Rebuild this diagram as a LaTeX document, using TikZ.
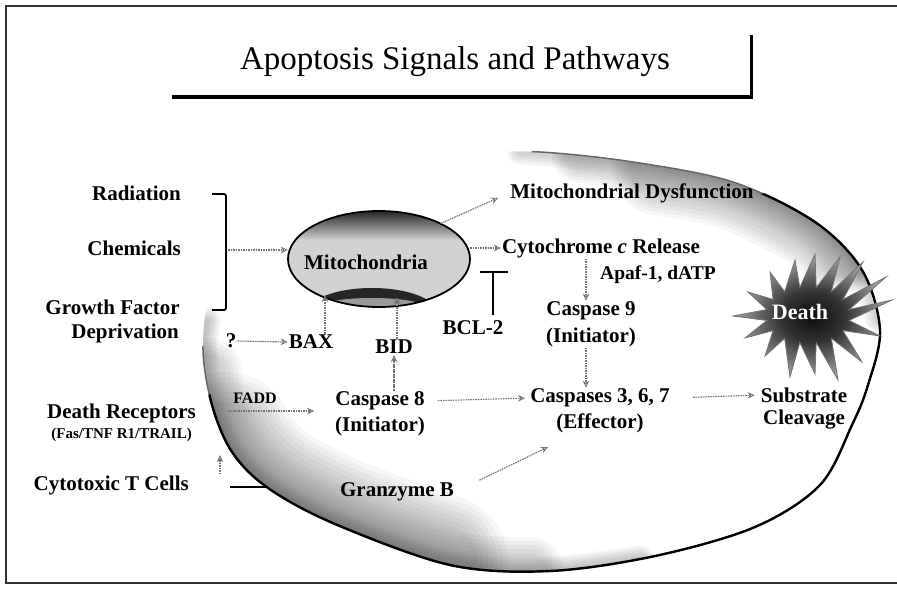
\documentclass[tikz,border=0pt]{standalone}
\usepackage{fontspec}
\setmainfont{Liberation Serif}
\usetikzlibrary{arrows.meta,shapes.geometric,calc}

% dark burst behind the word Death
\pgfdeclareradialshading{deathglow}{\pgfpoint{0bp}{0bp}}{color(0bp)=(black!95); color(10bp)=(black!80); color(25bp)=(black!35); color(50bp)=(black!35)}

% outline of the cell
\def\cellpath{plot[smooth cycle, tension=0.55] coordinates {(540,152) (633,162) (733,182) (815,222) (862,270) (880,330) (868,385) (852,425) (820,485) (755,527) (655,556) (550,571) (450,565) (335,524) (268,488) (232,452) (212,405) (203,350) (210,295) (240,240) (300,195) (390,163) (470,153)}}

\tikzset{
  titlefont/.style={font=\fontsize{33}{39}\selectfont, inner sep=1pt},
  lbl/.style={font=\bfseries\fontsize{21}{25}\selectfont, inner sep=1pt},
  smalllbl/.style={font=\bfseries\fontsize{15}{18}\selectfont, inner sep=1pt},
  deathlbl/.style={font=\bfseries\fontsize{22}{26}\selectfont, text=white, inner sep=1pt},
  sig/.style={draw=black!55, line width=1.1pt, dash pattern=on 1.6pt off 0.9pt,
    -{Stealth[open, length=7pt, width=6.5pt, line width=0.9pt]}},
  blk/.style={draw=black, line width=1.6pt},
  lowband/.style={draw=black, opacity=0.036, line cap=round, line join=round},
  topband/.style={draw=black, opacity=0.035, line cap=round, line join=round},
}

\begin{document}
\begin{tikzpicture}[x=1pt, y=-1pt]
\useasboundingbox (0,0) rectangle (897,606);
\fill[white] (0,0) rectangle (897,606);

% ---- grey band fading inward from the cell rim ----
\begin{scope}
  \clip \cellpath;
  % lower left
  \foreach \w in {6,10,...,30}
    \draw[lowband, line width=\w pt] plot[smooth, tension=0.55] coordinates {(206,322) (203,350) (212,405) (232,452) (268,488) (335,524) (450,565) (550,571) (640,560)};
  \foreach \w in {36,44,...,68}
    \draw[lowband, line width=\w pt] plot[smooth, tension=0.55] coordinates {(208,372) (212,405) (232,452) (268,488) (335,524) (450,565) (530,571)};
  \foreach \w in {76,86,...,136}
    \draw[lowband, line width=\w pt] plot[smooth, tension=0.55] coordinates {(226,440) (232,452) (268,488) (335,524) (440,562)};
  % upper right
  \foreach \w in {6,11,...,26}
    \draw[topband, line width=\w pt] plot[smooth, tension=0.55] coordinates {(520,152) (633,162) (733,182) (815,222) (862,270) (878,320)};
  \foreach \w in {32,38,...,56}
    \draw[topband, line width=\w pt] plot[smooth, tension=0.55] coordinates {(580,155) (633,162) (733,182) (815,222) (855,262)};
  \foreach \w in {64,72,...,96}
    \draw[topband, line width=\w pt] plot[smooth, tension=0.55] coordinates {(660,168) (733,182) (815,222) (840,245)};
\end{scope}
% rim: faint along the top and upper left, heavy along the bottom and right
\begin{scope}
  \clip (100,407) -- (700,52) -- (897,52) -- (897,606) -- (100,606) -- cycle;
  \draw[black!60, line width=1.5pt] \cellpath;
\end{scope}
\begin{scope}
  \clip (100,520) -- (300,290) -- (780,190) -- (897,230) -- (897,606) -- (100,606) -- cycle;
  \draw[black, line width=2.4pt] \cellpath;
\end{scope}

% ---- frame and title box ----
\draw[black!80, line width=1.3pt] (897,6) -- (6,6) -- (6,583) -- (897,583);
\draw[black, line width=4pt] (172,97) -- (753,97);
\draw[black, line width=3pt] (751,35) -- (751,99);
\node[titlefont] (title) at (455,62) {Apoptosis Signals and Pathways};

% ---- mitochondrion ----
\node[ellipse, minimum width=182pt, minimum height=96pt, inner sep=0pt] (mito) at (379,259) {};
\begin{scope}
  \clip (379,259) ellipse [x radius=91, y radius=48];
  \fill[black!18] (280,200) rectangle (475,310);
  \shade[top color=black!85, bottom color=black!18] (280,211) rectangle (475,240);
  \fill[black!85] (372,312) ellipse [x radius=64, y radius=24];
  \fill[black!40] (372,306) ellipse [x radius=50, y radius=8];
\end{scope}
\draw[black, line width=1.8pt] (379,259) ellipse [x radius=91, y radius=48];

% ---- death burst ----
\coordinate (dc) at (808,315);
\shade[shading=deathglow, draw=black!55, line width=0.8pt]
  (892,300) -- ([shift={(dc)}]11.25:42 and 28) -- (880,336) -- ([shift={(dc)}]33.75:42 and 28)
  -- (862,362) -- ([shift={(dc)}]56.25:42 and 28) -- (838,380) -- ([shift={(dc)}]78.75:42 and 28)
  -- (815,374) -- ([shift={(dc)}]101.25:42 and 28) -- (790,377) -- ([shift={(dc)}]123.75:42 and 28)
  -- (765,356) -- ([shift={(dc)}]146.25:42 and 28) -- (745,338) -- ([shift={(dc)}]168.75:42 and 28)
  -- (733,316) -- ([shift={(dc)}]191.25:42 and 28) -- (748,292) -- ([shift={(dc)}]213.75:42 and 28)
  -- (770,272) -- ([shift={(dc)}]236.25:42 and 28) -- (795,260) -- ([shift={(dc)}]258.75:42 and 28)
  -- (815,254) -- ([shift={(dc)}]281.25:42 and 28) -- (840,257) -- ([shift={(dc)}]303.75:42 and 28)
  -- (863,262) -- ([shift={(dc)}]326.25:42 and 28) -- (886,277) -- ([shift={(dc)}]348.75:42 and 28) -- cycle;

% ---- labels ----
\node[lbl, anchor=east] (rad) at (182,193) {Radiation};
\node[lbl, anchor=east] (chem) at (182,248) {Chemicals};
\node[lbl, anchor=east] (gf) at (181,307) {Growth Factor};
\node[lbl, anchor=east] (dep) at (180,333) {Deprivation};
\node[lbl] (mtx) at (366,262) {Mitochondria};
\node[lbl] (md) at (632,193) {Mitochondrial Dysfunction};
\node[lbl] (cyto) at (601,248) {Cytochrome \textit{c} Release};
\node[lbl, font=\bfseries\fontsize{19.5}{23}\selectfont] (apaf) at (658,275) {Apaf-1, dATP};
\node[lbl] (c9) at (591,311) {Caspase 9};
\node[lbl] (c9i) at (591,337) {(Initiator)};
\node[lbl] (bcl) at (473,328) {BCL-2};
\node[lbl] (q) at (231,341) {?};
\node[lbl] (bax) at (311,342) {BAX};
\node[lbl] (bid) at (394,347) {BID};
\node[lbl, font=\bfseries\fontsize{16}{19}\selectfont] (fadd) at (255,398) {FADD};
\node[lbl] (c8) at (380,401) {Caspase 8};
\node[lbl] (c8i) at (380,426) {(Initiator)};
\node[lbl] (c37) at (600,398) {Caspases 3, 6, 7};
\node[lbl] (c37e) at (600,423) {(Effector)};
\node[lbl] (sub) at (804,395) {Substrate};
\node[lbl] (clv) at (804,420) {Cleavage};
\node[lbl, anchor=east] (dr) at (197,413) {Death Receptors};
\node[smalllbl, anchor=east] (fas) at (193,435) {(Fas/TNF R1/TRAIL)};
\node[lbl, anchor=east] (ctc) at (190,485) {Cytotoxic T Cells};
\node[lbl] (gzb) at (397,492) {Granzyme B};
\node[deathlbl] (death) at (800,312) {Death};

% ---- bracket grouping the stress signals ----
\coordinate (brkT) at (212,194);
\coordinate (brkB) at (212,310);
\coordinate (brkM) at (228,250);
\draw[blk, line width=1.8pt, rounded corners=2pt] (brkT) -- ++(14,0) -- (226,310) -- (brkB);

% ---- connectors ----
\draw[sig] (brkM) -- (brkM -| mito.west);
\draw[sig, shorten >=12pt] (mito.30) -- (md.west);
\draw[sig] (cyto.west -| mito.east) -- (cyto.west);
\coordinate (ax9) at (586,0);
\draw[sig] (cyto.south -| ax9) -- (c9.north -| ax9);
\draw[sig] (c9i.south -| ax9) -- (c37.north -| ax9);
\draw[sig] (q.east) -- (bax.west);
\coordinate (baxin) at (325,295);
\draw[sig] (bax.north -| baxin) -- (baxin);
\coordinate (bidin) at (397,297);
\draw[sig] (bid.north -| bidin) -- (bidin);
\draw[sig] (c8.north -| bid) -- (bid.south);
\coordinate (faddA) at (228,411);
\draw[sig, shorten >=20pt] (faddA) -- (faddA -| c8.west);
\draw[sig, shorten <=12pt, shorten >=4pt] (c8.east) -- (c37.west);
\draw[sig, shorten <=22pt, shorten >=5pt] (c37.east) -- (sub.west);
\coordinate (gzbtip) at (548,447);
\draw[sig, shorten <=27pt] (gzb.east) -- (gzbtip);
\coordinate (ctcup) at (220,455);
\draw[sig] (ctcup |- ctc.north) -- (ctcup);
\coordinate (ctcEdge) at (268,487);
\draw[blk, shorten <=40pt] (ctc.east |- ctcEdge) -- (ctcEdge);

% BCL-2 blocks the release
\coordinate (bclTop) at (493,272);
\draw[blk, shorten <=5pt] (bcl.north -| bclTop) -- (bclTop);
\draw[blk] ([xshift=-13pt]bclTop) -- ([xshift=15pt]bclTop);
\end{tikzpicture}
\end{document}
